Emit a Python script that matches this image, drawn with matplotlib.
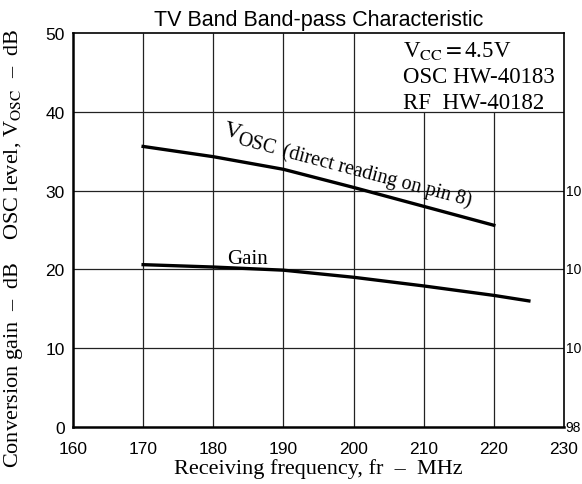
import matplotlib
matplotlib.use("Agg")
import numpy as np
import matplotlib.pyplot as plt

# data
freq_osc = [170, 180, 190, 200, 210, 220]
v_osc = [35.6, 34.3, 32.7, 30.4, 28.0, 25.6]
freq_gain = [170, 180, 190, 200, 210, 220, 225]
gain = [20.6, 20.3, 19.9, 19.0, 17.9, 16.7, 16.0]

x_ticks = [160, 170, 180, 190, 200, 210, 220, 230]
y_ticks = [0, 10, 20, 30, 40, 50]
right_labels = ["98", "10", "10", "10"]   # cut off at the page edge in the scan
right_pos = [0, 10, 20, 30]

plt.rcParams['mathtext.fontset'] = 'stix'
serif = 'Liberation Serif'
sans = 'Liberation Sans'

fig = plt.figure(figsize=(5.82, 4.85), dpi=100)
ax = fig.add_axes([0.1254, 0.1175, 0.8436, 0.8125])
ax.set_xlim(160, 230)
ax.set_ylim(0, 50)

# grid, the two right verticals stop under the condition box
for x in x_ticks[1:-1]:
    top = 40 if x > 200 else 50
    ax.vlines(x, 0, top, color='#222222', lw=0.9, zorder=1)
for y in y_ticks[1:-1]:
    ax.hlines(y, 160, 230, color='#222222', lw=0.9, zorder=1)

ax.plot(freq_osc, v_osc, color='black', lw=2.4, zorder=3)
ax.plot(freq_gain, gain, color='black', lw=2.4, zorder=3)

for side in ['left', 'bottom']:
    ax.spines[side].set_linewidth(1.8)
for side in ['top', 'right']:
    ax.spines[side].set_linewidth(1.2)

ax.set_xticks(x_ticks)
ax.set_yticks(y_ticks)
ax.tick_params(length=0, labelsize=12.5)
ax.tick_params(axis='x', pad=10)
ax.tick_params(axis='y', pad=6)
for lab in ax.get_xticklabels() + ax.get_yticklabels():
    lab.set_family(sans)

for y, s in zip(right_pos, right_labels):
    ax.text(230.25, y, s, ha='left', va='center', fontsize=10, family=sans)

ax.set_title("TV Band Band-pass Characteristic", fontsize=15.5, family=sans, pad=6)
ax.set_xlabel("Receiving frequency, fr  –  MHz", fontsize=16, family=serif, va='top')
ax.xaxis.set_label_coords(0.5, -0.078)
ax.set_ylabel(r"Conversion gain  –  dB    OSC level, V$_{\rm OSC}$  –  dB",
              fontsize=16, family=serif)
ax.yaxis.set_label_coords(-0.098, 0.456)

ax.text(207.05, 47.1, r"V$_{\rm CC}$$=$4.5V", fontsize=16.5, family=serif, va='baseline')
ax.text(207.05, 43.8, "OSC HW-40183", fontsize=16.5, family=serif, va='baseline')
ax.text(207.05, 40.5, "RF  HW-40182", fontsize=16.5, family=serif, va='baseline')

# V_OSC label: big V, large subscript, along the curve
ang = -14.8
t = np.deg2rad(ang)
along = np.array([np.cos(t), np.sin(t)])
down = np.array([np.sin(t), -np.cos(t)])
vx, vy = 181.3, 37.2
ax.text(vx, vy, "V", fontsize=17, family=serif, rotation=ang,
        rotation_mode='anchor', ha='left', va='baseline')
off = 11.5 * along + 4.0 * down
ax.annotate("OSC", (vx, vy), xytext=tuple(off), textcoords='offset points',
            fontsize=14.5, family=serif, rotation=ang, rotation_mode='anchor',
            ha='left', va='baseline')
off2 = 45.0 * along + 4.0 * down
ax.annotate("(direct reading on pin 8)", (vx, vy), xytext=tuple(off2),
            textcoords='offset points', fontsize=14.5, family=serif,
            rotation=ang, rotation_mode='anchor', ha='left', va='baseline')

ax.text(184.95, 20.8, "Gain", fontsize=15, family=serif, ha='center', va='baseline')

fig.savefig("out.png", dpi=100)
